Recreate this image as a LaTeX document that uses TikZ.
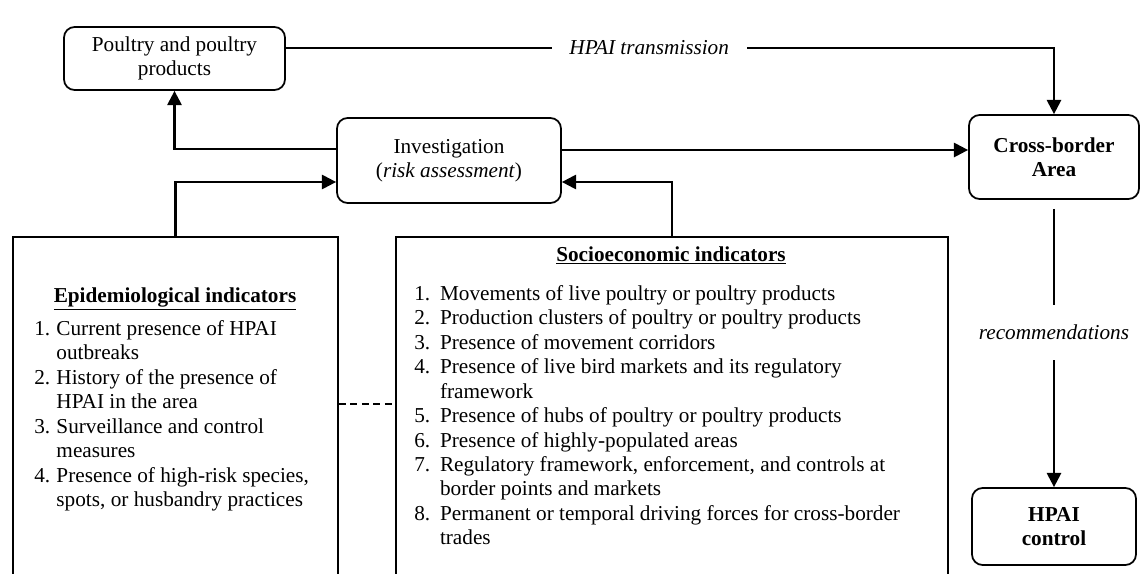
\documentclass[tikz,border=0pt]{standalone}
\usepackage{fontspec}
\setmainfont{Liberation Serif}
\usetikzlibrary{positioning,arrows.meta}
\newlength\unitpx
\setlength\unitpx{0.565pt}
\tikzset{
    box/.style       = {draw, rounded corners=6pt, line width=1pt,
                        align=center, inner sep=0pt},
    panel/.style     = {draw, line width=1pt, inner sep=0pt,
                        anchor=north west, minimum height=420\unitpx},
    flow/.style      = {line width=1.3pt, -{Triangle[length=8pt,width=8pt]}},
    plainline/.style = {line width=1pt},
    dashline/.style  = {line width=0.9pt, dash pattern=on 4pt off 2.5pt},
    flowlabel/.style = {font=\fontsize{12}{13.8}\selectfont\itshape,
                        fill=white, inner xsep=10pt, inner ysep=1pt},
    listtext/.style  = {align=left, inner sep=0pt, anchor=north west},
    heading/.style   = {inner sep=0pt, anchor=base},
}

\begin{document}
\begin{tikzpicture}[x=\unitpx, y=-\unitpx, font=\fontsize{12}{13.8}\selectfont]
    \clip (0,0) rectangle (1140,574);

    % Top row boxes
    \node[box, minimum width=221\unitpx, minimum height=63\unitpx] (poultry) at (174.5,58.5)
        {Poultry and poultry\\products};
    \node[box, minimum width=224\unitpx, minimum height=85\unitpx] (invest) at (449,160.5)
        {Investigation\\(\textit{risk assessment})};
    \node[box, minimum width=170\unitpx, minimum height=84\unitpx] (cross) at (1054,157)
        {\textbf{Cross-border}\\\textbf{Area}};
    \node[box, minimum width=164\unitpx, minimum height=77\unitpx] (control) at (1054,526.5)
        {\textbf{HPAI}\\\textbf{control}};

    % Indicator panels (cut off by the page bottom)
    \node[panel, minimum width=325\unitpx] (epi) at (12,236) {};
    \node[panel, minimum width=552\unitpx] (socio) at (395,236) {};

    \node[heading] (epititle) at (175,302) {\underline{\textbf{Epidemiological indicators}}};
    \node[listtext] (epilist) at (34,318) {%
        \begin{tabular}{@{}p{12.5pt}@{}l@{}}
        1. & Current presence of HPAI\\
           & outbreaks\\
        2. & History of the presence of\\
           & HPAI in the area\\
        3. & Surveillance and control\\
           & measures\\
        4. & Presence of high-risk species,\\
           & spots, or husbandry practices
        \end{tabular}};

    \node[heading] (sociotitle) at (671,261) {\underline{\textbf{Socioeconomic indicators}}};
    \node[listtext] (sociolist) at (414,283) {%
        \begin{tabular}{@{}p{14.5pt}@{}l@{}}
        1. & Movements of live poultry or poultry products\\
        2. & Production clusters of poultry or poultry products\\
        3. & Presence of movement corridors\\
        4. & Presence of live bird markets and its regulatory\\
           & framework\\
        5. & Presence of hubs of poultry or poultry products\\
        6. & Presence of highly-populated areas\\
        7. & Regulatory framework, enforcement, and controls at\\
           & border points and markets\\
        8. & Permanent or temporal driving forces for cross-border\\
           & trades
        \end{tabular}};

    \node[font=\fontsize{12}{13.8}\selectfont\itshape, inner sep=0pt,
          minimum height=55\unitpx] (rec) at (1054,332.5) {recommendations};

    % Connectors
    \path ([yshift=10.5\unitpx]poultry.east) coordinate (txstart);
    \draw[flow] (txstart) -- node[flowlabel, pos=0.473] (txlabel) {HPAI transmission}
        (txstart -| cross.north) -- (cross.north);

    \path ([yshift=11.5\unitpx]invest.west) coordinate (invout);
    \draw[flow] (invout) -| (poultry.south);

    \path ([yshift=10.5\unitpx]invest.east) coordinate (invright);
    \draw[flow] (invright) -- (invright -| cross.west);

    \path ([yshift=-21.5\unitpx]invest.west) coordinate (invinl);
    \path ([yshift=-21.5\unitpx]invest.east) coordinate (invinr);
    \draw[flow] (epi.north) |- (invinl);
    \draw[flow] (socio.north) |- (invinr);

    \draw[plainline, shorten <=9\unitpx] (cross.south) -- (rec.north);
    \draw[flow] (rec.south) -- (control.north);

    \coordinate (dashrow) at (0,404);
    \draw[dashline] (epi.east |- dashrow) -- (socio.west |- dashrow);
\end{tikzpicture}
\end{document}
